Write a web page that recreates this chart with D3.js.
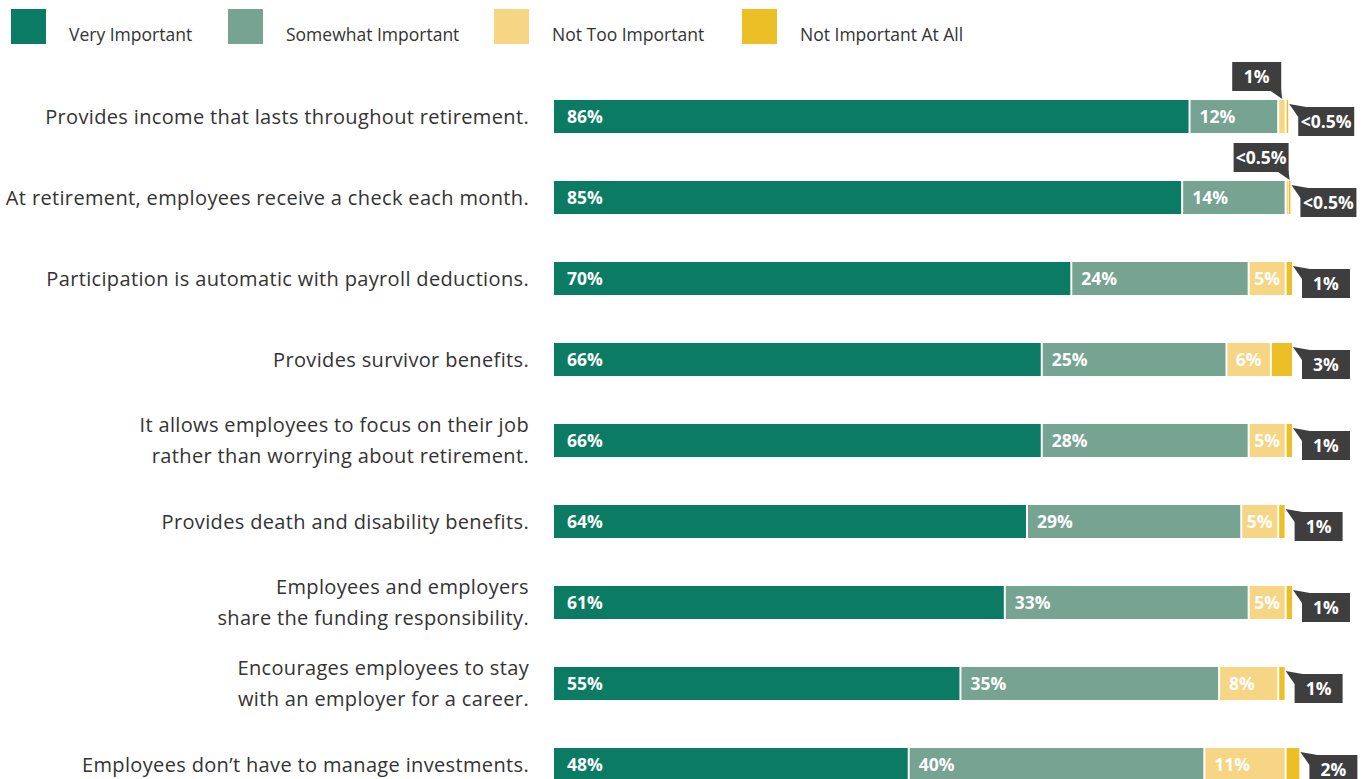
<!DOCTYPE html>
<html>
<head>
<meta charset="utf-8">
<script src="https://cdn.jsdelivr.net/npm/d3@7"></script>
<style>
  html, body { margin: 0; padding: 0; background: #fff; }
  svg { display: block; }
  text { font-family: "Open Sans", "Noto Sans", sans-serif; }
</style>
</head>
<body>
<svg id="chart" width="1364" height="779"></svg>
<script>
// Survey items (multi-line labels split with "\n")
const categories = [
  "Provides income that lasts throughout retirement.",
  "At retirement, employees receive a check each month.",
  "Participation is automatic with payroll deductions.",
  "Provides survivor benefits.",
  "It allows employees to focus on their job\nrather than worrying about retirement.",
  "Provides death and disability benefits.",
  "Employees and employers\nshare the funding responsibility.",
  "Encourages employees to stay\nwith an employer for a career.",
  "Employees don\u2019t have to manage investments."
];

const seriesNames = ["Very Important", "Somewhat Important", "Not Too Important", "Not Important At All"];
const seriesColors = ["#0b7b63", "#76a392", "#f6d584", "#edbf26"];

// Percent of respondents; 0.3 stands for answers under 0.5%
const veryImportant      = [86, 85, 70, 66, 66, 64, 61, 55, 48];
const somewhatImportant  = [12, 14, 24, 25, 28, 29, 33, 35, 40];
const notTooImportant    = [1, 0.3, 5, 6, 5, 5, 5, 8, 11];
const notImportantAtAll  = [0.3, 0.3, 1, 3, 1, 1, 1, 1, 2];

const series = [veryImportant, somewhatImportant, notTooImportant, notImportantAtAll];
const fmt = v => v < 0.5 ? "<0.5%" : v + "%";

const svg = d3.select("#chart");

const x = d3.scaleLinear().domain([0, 100]).range([554, 1293]);
const y = d3.scaleBand()
  .domain(d3.range(categories.length))
  .range([100, 781])
  .paddingInner(48 / 81)
  .paddingOuter(0)
  .align(0);
const bh = y.bandwidth();

// Legend
const legendX = [11, 228, 494, 742];
const legend = svg.append("g");
seriesNames.forEach((name, i) => {
  legend.append("rect")
    .attr("x", legendX[i]).attr("y", 9)
    .attr("width", 35).attr("height", 35)
    .attr("fill", seriesColors[i]);
  legend.append("text")
    .attr("x", legendX[i] + 58).attr("y", 41)
    .attr("font-size", 17.5).attr("fill", "#333")
    .text(name);
});

// Category labels
const labels = svg.append("g");
categories.forEach((c, i) => {
  const lines = c.split("\n");
  const cy = y(i) + bh / 2;
  const t = labels.append("text")
    .attr("text-anchor", "end")
    .attr("font-size", 20)
    .attr("letter-spacing", 0.35)
    .attr("fill", "#333");
  lines.forEach((ln, k) => {
    t.append("tspan")
      .attr("x", 529)
      .attr("y", cy + 7 + (k - (lines.length - 1) / 2) * 31.5)
      .text(ln);
  });
});

// Stacked bars
const rows = svg.append("g");
categories.forEach((c, i) => {
  const g = rows.append("g");
  const top = y(i);
  let acc = 0;
  const segs = series.map((s, k) => {
    const v = s[i];
    const seg = { k, v, x0: x(acc), x1: x(acc + v) };
    acc += v;
    return seg;
  });

  segs.forEach(sg => {
    const left = sg.x0 + (sg.k ? 1 : 0);
    const w = Math.max(1.6, sg.x1 - sg.x0 - (sg.k ? 1 : 0) - 1);
    g.append("rect")
      .attr("x", left).attr("y", top)
      .attr("width", w).attr("height", bh)
      .attr("fill", seriesColors[sg.k]);
    sg.left = left; sg.w = w;
  });

  // Values inside the wider segments
  segs.forEach(sg => {
    if (sg.k > 2 || sg.v < 3) return;
    const t = g.append("text")
      .attr("y", top + bh / 2 + 6)
      .attr("font-size", 17.5).attr("font-weight", 700)
      .attr("fill", "#fff")
      .text(fmt(sg.v));
    const tw = t.node().getComputedTextLength();
    const pad = sg.k === 0 ? 13 : Math.min(9, (sg.w - tw) / 2);
    t.attr("x", sg.left + pad);
  });

  const callout = (text, bx, by, w, tri) => {
    g.append("polygon").attr("points", tri.map(p => p.join(",")).join(" ")).attr("fill", "#3e3e3e");
    g.append("rect").attr("x", bx).attr("y", by).attr("width", w).attr("height", 29).attr("fill", "#3e3e3e");
    g.append("text")
      .attr("x", bx + w / 2).attr("y", by + 20.5)
      .attr("text-anchor", "middle")
      .attr("font-size", 17.5).attr("font-weight", 700).attr("fill", "#fff")
      .text(text);
  };

  // Narrow "Not Too Important" segment: callout above the bar
  const nt = segs[2];
  if (nt.v < 3) {
    const txt = fmt(nt.v);
    const w = txt.length > 3 ? 55 : 49;
    const right = nt.left + 2;
    const by = top - 38;
    callout(txt, right - w, by, w, [[right - 12, by + 28], [right, by + 28], [right + 1, top - 1]]);
  }

  // "Not Important At All": callout to the right of the bar end
  const na = segs[3];
  const end = na.left + na.w;
  const txt = fmt(na.v);
  const w = txt.length > 3 ? 56 : 48;
  const bx = end + 10, by = top + 7;
  callout(txt, bx, by, w, [[end + 1, top + 4], [bx + 8, by], [bx, by + 10]]);
});
</script>
</body>
</html>
